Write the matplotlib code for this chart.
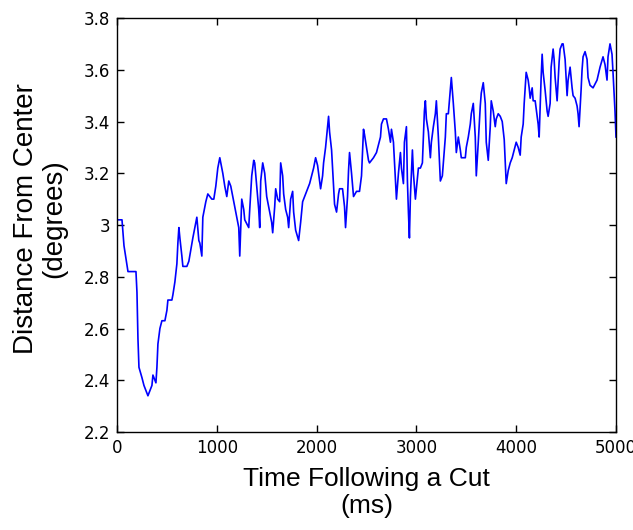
import matplotlib
matplotlib.use("Agg")
import matplotlib.pyplot as plt

# time after cut (ms) and distance from screen center (deg)
time_ms = [0, 50, 60, 70, 90, 110, 190, 200, 210, 220, 250, 270, 310, 350, 360, 390,
           400, 410, 430, 450, 480, 500, 510, 550, 560, 580, 600, 610, 620, 630, 650,
           660, 700, 720, 760, 780, 800, 820, 830, 850, 860, 890, 910, 950, 970, 990,
           1010, 1030, 1040, 1060, 1080, 1100, 1120, 1140, 1170, 1190, 1220, 1230,
           1250, 1270, 1280, 1320, 1330, 1350, 1370, 1380, 1400, 1420, 1430, 1440,
           1460, 1480, 1500, 1520, 1530, 1550, 1560, 1580, 1590, 1610, 1630, 1640,
           1660, 1670, 1690, 1710, 1720, 1740, 1760, 1770, 1790, 1820, 1840, 1860,
           1880, 1910, 1930, 1950, 1970, 1990, 2010, 2030, 2040, 2060, 2070, 2090,
           2110, 2120, 2130, 2150, 2170, 2180, 2200, 2220, 2230, 2260, 2280, 2290,
           2310, 2320, 2330, 2350, 2370, 2400, 2430, 2450, 2470, 2480, 2500, 2520,
           2530, 2570, 2600, 2640, 2650, 2670, 2700, 2720, 2740, 2750, 2770, 2790,
           2800, 2820, 2840, 2850, 2870, 2880, 2900, 2910, 2920, 2930, 2940, 2960,
           2970, 2990, 3000, 3020, 3040, 3060, 3080, 3090, 3100, 3120, 3140, 3150,
           3170, 3190, 3200, 3220, 3240, 3260, 3290, 3300, 3320, 3340, 3350, 3370,
           3390, 3400, 3420, 3440, 3450, 3490, 3500, 3520, 3540, 3550, 3570, 3590,
           3600, 3620, 3640, 3650, 3670, 3690, 3700, 3720, 3740, 3750, 3770, 3790,
           3800, 3820, 3840, 3860, 3880, 3890, 3900, 3920, 3940, 3960, 3980, 4000,
           4020, 4040, 4050, 4070, 4080, 4100, 4120, 4130, 4140, 4160, 4170, 4190,
           4210, 4220, 4230, 4250, 4260, 4270, 4290, 4310, 4320, 4340, 4350, 4370,
           4380, 4390, 4410, 4430, 4440, 4460, 4470, 4490, 4510, 4520, 4540, 4560,
           4570, 4590, 4610, 4620, 4630, 4650, 4660, 4670, 4690, 4710, 4720, 4740,
           4770, 4810, 4840, 4870, 4890, 4910, 4920, 4940, 4960, 4970, 4990, 5000]

distance = [3.02, 3.02, 2.97, 2.92, 2.87, 2.82, 2.82, 2.74, 2.56, 2.45, 2.41, 2.38,
            2.34, 2.38, 2.42, 2.39, 2.45, 2.54, 2.60, 2.63, 2.63, 2.67, 2.71, 2.71,
            2.73, 2.78, 2.85, 2.93, 2.99, 2.95, 2.88, 2.84, 2.84, 2.86, 2.95, 2.99,
            3.03, 2.94, 2.93, 2.88, 3.03, 3.09, 3.12, 3.10, 3.10, 3.15, 3.22, 3.26,
            3.24, 3.20, 3.15, 3.11, 3.17, 3.15, 3.09, 3.05, 2.99, 2.88,
            3.10, 3.06, 3.02, 2.99, 3.06, 3.19, 3.25, 3.24, 3.15, 3.06, 2.99, 3.17,
            3.24, 3.20, 3.11, 3.07, 3.05, 3.01, 2.97, 3.07, 3.14, 3.10, 3.09, 3.24,
            3.19, 3.12, 3.06, 3.03, 2.99, 3.10, 3.13, 3.05, 2.98, 2.94, 3.01, 3.09,
            3.11, 3.14, 3.16, 3.19, 3.22, 3.26, 3.23, 3.17, 3.14, 3.19, 3.24, 3.30,
            3.38, 3.42, 3.36, 3.29, 3.15, 3.08, 3.05, 3.12, 3.14, 3.14, 3.07, 2.99,
            3.11, 3.21, 3.28, 3.20, 3.11, 3.13, 3.13, 3.19, 3.37, 3.35, 3.30, 3.25,
            3.24, 3.26, 3.28, 3.34, 3.39, 3.41, 3.41, 3.37, 3.32, 3.37, 3.32, 3.17,
            3.10, 3.20, 3.28, 3.22, 3.16, 3.32, 3.38, 3.17, 3.05, 2.95, 3.11, 3.29,
            3.20, 3.10, 3.14, 3.22, 3.22, 3.24, 3.44, 3.48, 3.41, 3.36, 3.26, 3.32,
            3.38, 3.43, 3.48, 3.34, 3.17, 3.19, 3.34, 3.43, 3.43, 3.52, 3.57, 3.47,
            3.36, 3.28, 3.34, 3.29, 3.26, 3.26, 3.30, 3.34, 3.39, 3.43, 3.47, 3.34,
            3.19, 3.32, 3.46, 3.51, 3.55, 3.47, 3.32, 3.25, 3.38, 3.48, 3.44, 3.38,
            3.41, 3.43, 3.42, 3.40, 3.33, 3.24, 3.16, 3.21, 3.24, 3.26, 3.29, 3.32,
            3.30, 3.27, 3.34, 3.39, 3.47, 3.59, 3.56, 3.53, 3.49, 3.53, 3.48, 3.48,
            3.42, 3.39, 3.34, 3.57, 3.66, 3.59, 3.52, 3.44, 3.42, 3.47, 3.61, 3.68,
            3.64, 3.57, 3.48, 3.63, 3.68, 3.70, 3.70, 3.64, 3.50, 3.56, 3.61, 3.53,
            3.50, 3.49, 3.46, 3.43, 3.38, 3.52, 3.60, 3.65, 3.67, 3.64, 3.57, 3.54,
            3.53, 3.56, 3.61, 3.65, 3.62, 3.56, 3.65, 3.70, 3.66, 3.59, 3.44, 3.34]

x_ticks = [0, 1000, 2000, 3000, 4000, 5000]
y_ticks = [2.2, 2.4, 2.6, 2.8, 3.0, 3.2, 3.4, 3.6, 3.8]
y_tick_labels = ['2.2', '2.4', '2.6', '2.8', '3', '3.2', '3.4', '3.6', '3.8']

fig = plt.figure(figsize=(6.33, 5.30), dpi=100)
ax = fig.add_axes([117 / 633, 1 - 432 / 530, 499 / 633, 414 / 530])

ax.plot(time_ms, distance, color='#0000ff', linewidth=1.2)

ax.set_xlim(0, 5000)
ax.set_ylim(2.2, 3.8)
ax.set_xticks(x_ticks)
ax.set_yticks(y_ticks)
ax.set_yticklabels(y_tick_labels)

tick_font = ['Liberation Sans Narrow', 'DejaVu Sans']
for lbl in ax.get_xticklabels() + ax.get_yticklabels():
    lbl.set_family(tick_font)
    lbl.set_fontsize(12)

ax.tick_params(direction='in', length=5, width=1, top=True, right=True, pad=5)
for sp in ax.spines.values():
    sp.set_linewidth(1.0)

label_font = ['Liberation Sans', 'DejaVu Sans']
ax.set_xlabel('Time Following a Cut\n(ms)', family=label_font, fontsize=19,
              linespacing=1.15)
ax.xaxis.set_label_coords(0.5, -0.085)
ax.set_ylabel('Distance From Center\n(degrees)', family=label_font, fontsize=20,
              linespacing=1.1)
ax.yaxis.set_label_coords(-0.10, 0.515)

fig.savefig('out.png', dpi=100)
